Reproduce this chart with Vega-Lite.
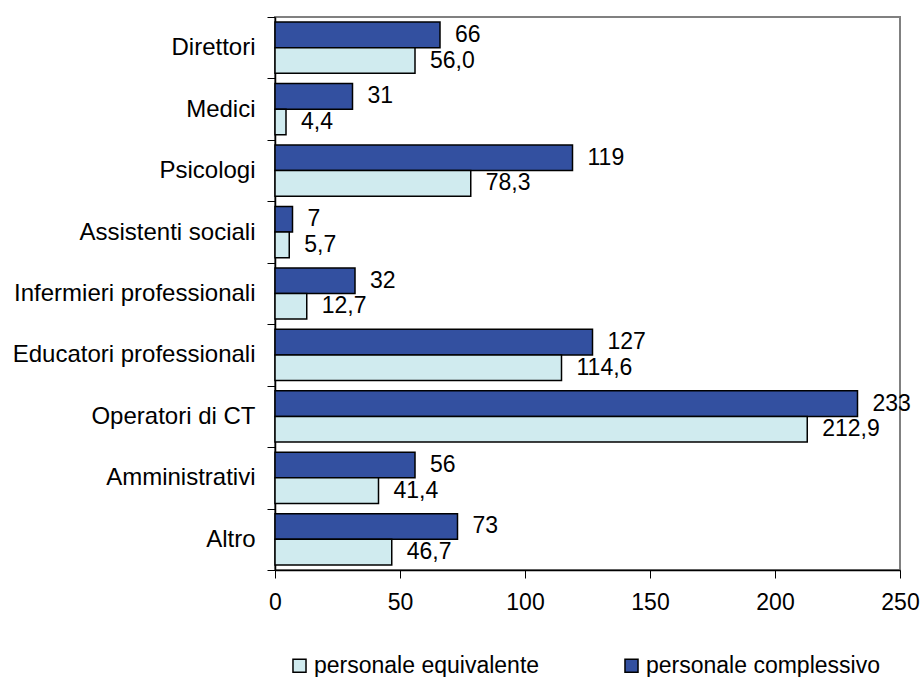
{
  "$schema": "https://vega.github.io/schema/vega-lite/v6.json",
  "width": 625,
  "height": 553,
  "autosize": {"type": "none"},
  "padding": {"left": 275, "top": 17, "right": 21, "bottom": 107},
  "background": "white",
  "config": {
    "font": "Liberation Sans",
    "view": {"stroke": "#808080", "strokeWidth": 2}
  },
  "data": {
    "values": [
      {"cat": "Direttori", "serie": "personale complessivo", "v": 66, "label": "66"},
      {"cat": "Direttori", "serie": "personale equivalente", "v": 56.0, "label": "56,0"},
      {"cat": "Medici", "serie": "personale complessivo", "v": 31, "label": "31"},
      {"cat": "Medici", "serie": "personale equivalente", "v": 4.4, "label": "4,4"},
      {"cat": "Psicologi", "serie": "personale complessivo", "v": 119, "label": "119"},
      {"cat": "Psicologi", "serie": "personale equivalente", "v": 78.3, "label": "78,3"},
      {"cat": "Assistenti sociali", "serie": "personale complessivo", "v": 7, "label": "7"},
      {"cat": "Assistenti sociali", "serie": "personale equivalente", "v": 5.7, "label": "5,7"},
      {"cat": "Infermieri professionali", "serie": "personale complessivo", "v": 32, "label": "32"},
      {"cat": "Infermieri professionali", "serie": "personale equivalente", "v": 12.7, "label": "12,7"},
      {"cat": "Educatori professionali", "serie": "personale complessivo", "v": 127, "label": "127"},
      {"cat": "Educatori professionali", "serie": "personale equivalente", "v": 114.6, "label": "114,6"},
      {"cat": "Operatori di CT", "serie": "personale complessivo", "v": 233, "label": "233"},
      {"cat": "Operatori di CT", "serie": "personale equivalente", "v": 212.9, "label": "212,9"},
      {"cat": "Amministrativi", "serie": "personale complessivo", "v": 56, "label": "56"},
      {"cat": "Amministrativi", "serie": "personale equivalente", "v": 41.4, "label": "41,4"},
      {"cat": "Altro", "serie": "personale complessivo", "v": 73, "label": "73"},
      {"cat": "Altro", "serie": "personale equivalente", "v": 46.7, "label": "46,7"}
    ]
  },
  "encoding": {
    "y": {
      "field": "cat",
      "type": "nominal",
      "sort": null,
      "title": null,
      "scale": {"paddingInner": 0, "paddingOuter": 0},
      "axis": {
        "tickBand": "extent",
        "tickSize": 8,
        "tickColor": "#000000",
        "domainColor": "#000000",
        "domainWidth": 1.5,
        "labelFontSize": 24,
        "labelColor": "#000000",
        "labelPadding": 12,
        "labelLimit": 300
      }
    },
    "yOffset": {
      "field": "serie",
      "type": "nominal",
      "sort": ["personale complessivo", "personale equivalente"],
      "scale": {"paddingInner": 0, "paddingOuter": 0.2}
    },
    "x": {
      "field": "v",
      "type": "quantitative",
      "title": null,
      "scale": {"domain": [0, 250], "nice": false},
      "axis": {
        "values": [0, 50, 100, 150, 200, 250],
        "grid": false,
        "tickSize": 8,
        "tickColor": "#000000",
        "domainColor": "#000000",
        "domainWidth": 1.5,
        "labelFontSize": 23,
        "labelColor": "#000000",
        "labelPadding": 13,
        "labelFlush": false
      }
    }
  },
  "layer": [
    {
      "mark": {"type": "bar", "stroke": "#000000", "strokeWidth": 1.5},
      "encoding": {
        "color": {
          "field": "serie",
          "type": "nominal",
          "scale": {
            "domain": ["personale equivalente", "personale complessivo"],
            "range": ["#D0EBEF", "#3350A0"]
          },
          "legend": {
            "title": null,
            "orient": "none",
            "direction": "horizontal",
            "legendX": 13,
            "legendY": 637,
            "symbolType": "square",
            "symbolSize": 170,
            "symbolStrokeColor": "#000000",
            "symbolStrokeWidth": 1.5,
            "labelFontSize": 23,
            "labelColor": "#000000",
            "labelOffset": 3,
            "columnPadding": 80,
            "labelLimit": 400
          }
        }
      }
    },
    {
      "mark": {"type": "text", "align": "left", "baseline": "middle", "dx": 15, "fontSize": 23, "color": "#000000"},
      "encoding": {
        "text": {"field": "label"}
      }
    }
  ]
}
